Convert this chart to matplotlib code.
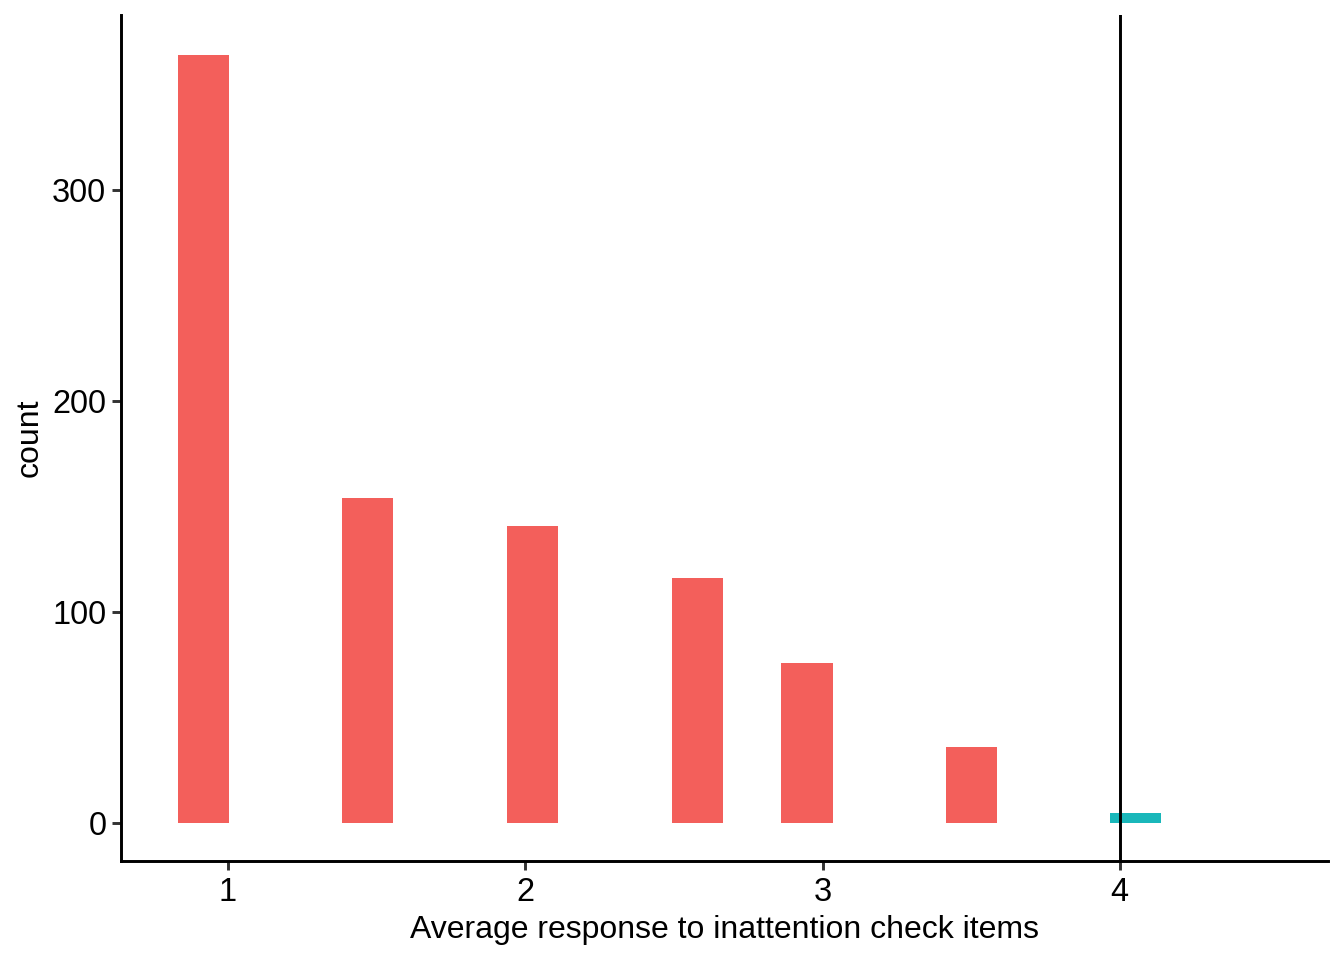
import matplotlib
matplotlib.use('Agg')
import matplotlib.pyplot as plt

# histogram bins (centres) and counts
bin_centers = [0.918, 1.470, 2.024, 2.578, 2.948, 3.502, 4.053]
counts = [364, 154, 141, 116, 76, 36, 5]
flagged = [False, False, False, False, False, False, True]
bin_width = 0.172
cutoff = 4

plt.rcParams['font.family'] = ['Liberation Sans', 'DejaVu Sans']

fig = plt.figure(figsize=(7, 5), dpi=192)
ax = fig.add_axes([0.090, 0.103, 0.898, 0.881])

colors = ['#19B7BA' if f else '#F35F5B' for f in flagged]
ax.bar(bin_centers, counts, width=bin_width, color=colors, edgecolor='none')
ax.axvline(cutoff, color='black', linewidth=1.1)

ax.set_xlim(0.64, 4.70)
ax.set_ylim(-18, 383)
ax.set_xticks([1, 2, 3, 4])
ax.set_yticks([0, 100, 200, 300])

for s in ['top', 'right']:
    ax.spines[s].set_visible(False)
for s in ['left', 'bottom']:
    ax.spines[s].set_linewidth(1.1)
ax.tick_params(axis='both', colors='#333333', width=1.1, length=3.5,
               labelsize=12.2, labelcolor='black', pad=2.5)
ax.tick_params(axis='y', pad=2)

ax.set_xlabel("Average response to inattention check items", fontsize=12, labelpad=2.5)
ax.set_ylabel("count", fontsize=12, labelpad=3)

plt.savefig("out.png")
plt.close()
